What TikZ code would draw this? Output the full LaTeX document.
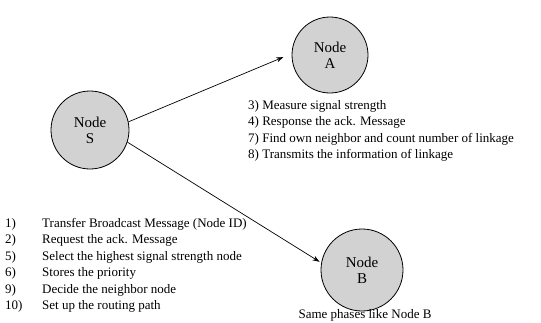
\documentclass[tikz,border=0pt]{standalone}
\usepackage{fontspec}
\setmainfont{Liberation Serif}
\usetikzlibrary{arrows.meta}
\begin{document}
\begin{tikzpicture}[x=1pt,y=-1pt,
  station/.style={circle,draw=black,line width=0.8pt,fill=gray!35,
    align=center,font=\fontsize{15}{16}\selectfont,inner sep=0pt},
  link/.style={line width=0.7pt,-{Stealth[length=7pt,width=5pt]}},
  item/.style={anchor=base west,inner sep=0pt,font=\fontsize{13}{14}\selectfont}]
\useasboundingbox (0,0) rectangle (541,322);

% the three nodes
\node[station,minimum size=78pt] (S) at (90,130) {Node\\S};
\node[station,minimum size=76pt] (A) at (330,55) {Node\\A};
\node[station,minimum size=82pt] (B) at (362,270) {Node\\B};

% links from the source node
\draw[link,shorten >=9pt] (S.12) -- (A.178);
\draw[link,shorten >=2pt] (S.-18) -- (B.170);

% steps carried out by node A
\node[item] (a1) at (248,109) {3) Measure signal strength};
\node[item] (a2) at (248,125.5) {4) Response the ack. Message};
\node[item] (a3) at (248,142) {7) Find own neighbor and count number of linkage};
\node[item] (a4) at (248,158.5) {8) Transmits the information of linkage};

% steps carried out by node S
\node[item] (n1) at (5,227) {1)};
\node[item] (s1) at (42,227) {Transfer Broadcast Message (Node ID)};
\node[item] (n2) at (5,243.5) {2)};
\node[item] (s2) at (42,243.5) {Request the ack. Message};
\node[item] (n3) at (5,260) {5)};
\node[item] (s3) at (42,260) {Select the highest signal strength node};
\node[item] (n4) at (5,276.5) {6)};
\node[item] (s4) at (42,276.5) {Stores the priority};
\node[item] (n5) at (5,293) {9)};
\node[item] (s5) at (42,293) {Decide the neighbor node};
\node[item] (n6) at (5,309.5) {10)};
\node[item] (s6) at (42,309.5) {Set up the routing path};

% note under node B
\node[anchor=base,inner sep=0pt,font=\fontsize{13}{14}\selectfont] (bnote) at (365,318) {Same phases like Node B};
\end{tikzpicture}
\end{document}
